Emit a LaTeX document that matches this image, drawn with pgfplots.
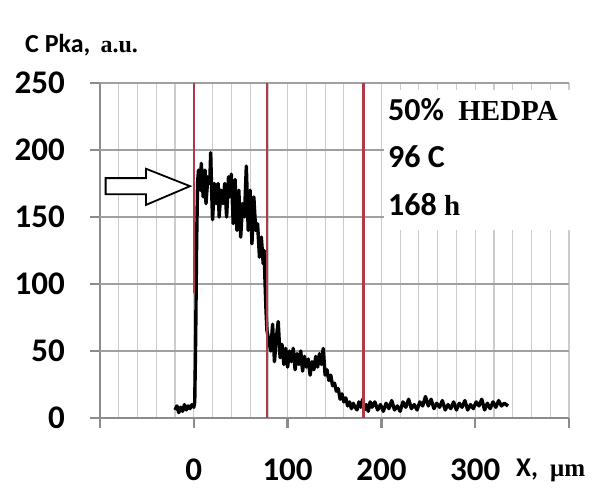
\documentclass[border=0pt]{standalone}
\usepackage{pgfplots}
\pgfplotsset{compat=1.18}
\usepackage{fontspec}
\setmainfont{Carlito}
\newfontfamily\serifb{Liberation Serif}
\definecolor{redl}{HTML}{B03A48}
\definecolor{axgray}{HTML}{8C8C8C}
\definecolor{gridl}{HTML}{CCCCCC}
\definecolor{gridm}{HTML}{A0A0A0}
\begin{document}
\begin{tikzpicture}
\path[use as bounding box] (-100pt,-71pt) rectangle (499pt,418pt);
\begin{axis}[
  scale only axis, width=469pt, height=335pt,
  xmin=-100, xmax=400, ymin=0, ymax=250,
  axis x line*=bottom, axis y line*=left,
  axis line style={axgray, line width=2.5pt},
  xtick={-100,0,100,200,300,400},
  xticklabels={,0,100,200,300,},
  ytick={0,50,100,150,200,250},
  minor x tick num=4,
  minor tick length=0pt,
  major tick length=10pt,
  tick align=outside,
  tick style={axgray, line width=2.5pt},
  xmajorgrids, xminorgrids, ymajorgrids,
  minor grid style={gridl, line width=1.1pt},
  major grid style={gridl, line width=1.1pt},
  /pgf/number format/assume math mode=true,
  tick label style={font=\bfseries\fontsize{33}{33}\selectfont},
  xticklabel style={anchor=center, yshift=-42pt},
  yticklabel style={anchor=east, inner sep=0pt, xshift=-25pt},
  clip=false,
]
\addplot[gridm, line width=1.2pt, forget plot] coordinates {(-100,50) (400,50)};
\addplot[gridm, line width=1.2pt, forget plot] coordinates {(-100,100) (400,100)};
\addplot[gridm, line width=1.2pt, forget plot] coordinates {(-100,150) (400,150)};
\addplot[gridm, line width=1.2pt, forget plot] coordinates {(-100,200) (400,200)};
\addplot[gridm, line width=1.2pt, forget plot] coordinates {(-100,250) (400,250)};
\fill[white] (axis cs:203,140) rectangle (axis cs:412,245);
\addplot[black, line width=3.4pt, line join=round] coordinates {
(-20,6) (-18,9) (-16,4) (-14,8) (-12,5) (-10,10) (-8,6) (-6,9) (-4,7) (-2,10) (0,8) (1,12)
(2,60) (3,130) (4,175) (5,185) (7,170) (8,190) (10,165) (12,185) (13,160) (15,180)
(17,175) (18,198) (19,170) (20,148) (22,175) (24,160) (26,175) (27,150) (29,170) (31,160)
(33,175) (35,150) (37,180) (38,165) (40,182) (42,145) (44,178) (46,140) (48,170) (50,135)
(52,160) (54,150) (56,188) (58,140) (60,170) (62,130) (64,165) (66,140) (68,145) (70,120)
(72,135) (74,115) (75,125) (76,100) (77,80) (78,65) (80,58) (82,50) (84,70) (86,42)
(88,60) (90,72) (92,45) (94,55) (96,40) (98,52) (100,38) (102,50) (104,42) (106,52)
(108,36) (110,48) (112,40) (114,50) (116,35) (118,46) (120,38) (122,44) (124,32) (126,42)
(128,36) (130,46) (132,38) (134,48) (136,40) (138,52) (140,32) (142,36) (144,28) (146,32)
(148,24) (150,26) (152,20) (154,22) (156,14) (158,18) (160,12) (162,15) (164,9) (166,12)
(168,7) (170,11) (172,8) (174,6) (176,12) (178,8) (180,14) (182,6) (184,10) (186,5)
(188,12) (190,8) (193,12) (196,6) (199,10) (202,5) (205,11) (208,7) (211,13) (214,6)
(217,9) (220,5) (223,12) (226,8) (229,14) (232,7) (235,10) (238,6) (241,12) (244,9)
(247,16) (250,9) (253,14) (256,7) (259,11) (262,8) (265,13) (268,6) (271,10) (274,7)
(277,12) (280,6) (283,11) (286,8) (289,13) (292,6) (295,10) (298,7) (301,12) (304,9)
(307,14) (310,6) (313,11) (316,7) (319,12) (322,8) (325,13) (328,9) (331,11) (335,9)
};
\addplot[redl, line width=2.2pt] coordinates {(0,93) (0,250)};
\addplot[redl, line width=2.2pt] coordinates {(78,0) (78,250)};
\addplot[redl, line width=2.2pt] coordinates {(181,0) (181,250)};
\addplot[black, fill=white, line width=1.8pt, line join=miter] coordinates {
(-94,167) (-51,167) (-51,159) (-4,173) (-51,186) (-51,179) (-94,179)} -- cycle;
\node[anchor=west, inner sep=0pt] at (axis cs:207,230) {\bfseries\fontsize{32}{32}\selectfont 50\%\ \ {\serifb\fontsize{29}{29}\selectfont HEDPA}};
\node[anchor=west, inner sep=0pt] at (axis cs:207,195) {\bfseries\fontsize{32}{32}\selectfont 96 C};
\node[anchor=west, inner sep=0pt] at (axis cs:207,159) {\bfseries\fontsize{32}{32}\selectfont 168 {\serifb\fontsize{29}{29}\selectfont h}};
\end{axis}
\node[anchor=west, inner sep=0pt] at (-75pt,373pt) {\bfseries\fontsize{26}{26}\selectfont C Pka,\, {\serifb\fontsize{24}{24}\selectfont a.u.}};
\node[anchor=west, inner sep=0pt] at (416pt,-52pt) {\bfseries\fontsize{27}{27}\selectfont X,\ \ {\serifb\fontsize{25}{25}\selectfont μm}};
\end{tikzpicture}
\end{document}
